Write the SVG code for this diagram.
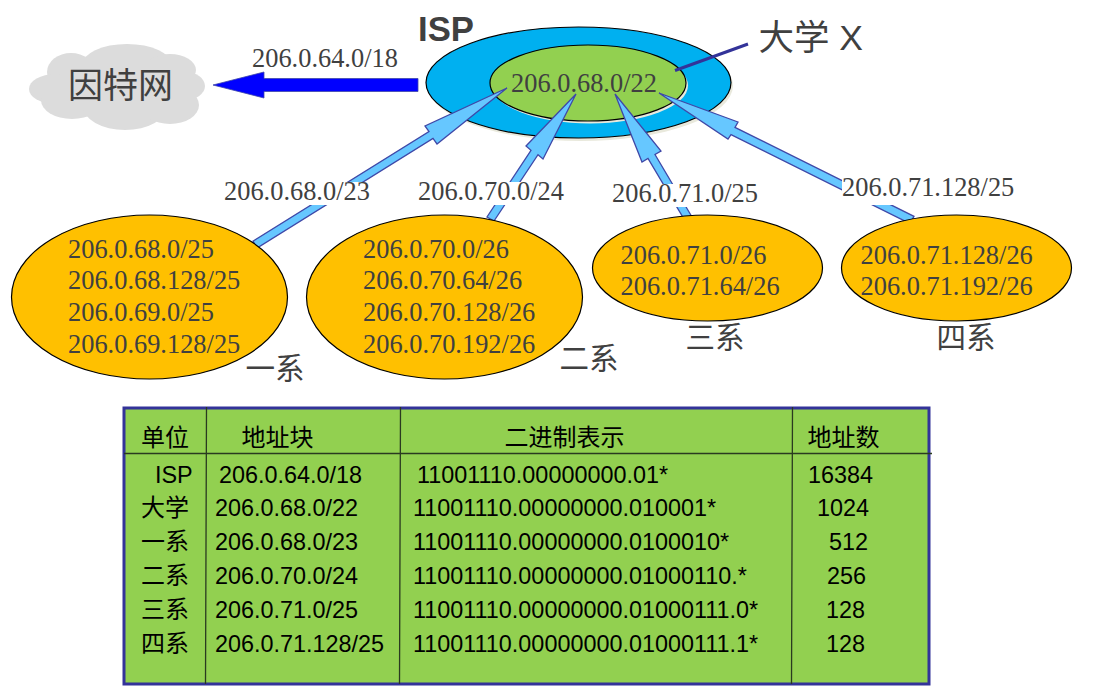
<svg xmlns="http://www.w3.org/2000/svg" width="1104" height="696" viewBox="0 0 1104 696">
<style>
.t{font-family:"Liberation Serif","Noto Sans CJK SC",serif;font-size:26.4px;fill:#404040}
.c{font-family:"Liberation Sans","Noto Sans CJK SC",sans-serif;fill:#404040}
.h{font-size:29.500px}
.n{fill:#ffc000;stroke:#000;stroke-width:1.2}
.a{fill:#66c7ff;stroke:#3f48a8;stroke-width:1.3;stroke-linejoin:miter}
.m{fill:#fff}
.tb{font-family:"Liberation Sans","Noto Sans CJK SC",sans-serif;font-size:23.4px;fill:#000}
.z{font-size:24px}
.g{stroke:#2a3a20;stroke-width:1.3;fill:none}
</style>
<g id="internet">
<g fill="#dcdcdc">
<ellipse cx="127" cy="65" rx="45" ry="21"/>
<ellipse cx="71" cy="72" rx="24" ry="19"/>
<ellipse cx="170" cy="70" rx="26" ry="16"/>
<ellipse cx="55" cy="89" rx="26" ry="15"/>
<ellipse cx="185" cy="86" rx="20" ry="14"/>
<ellipse cx="72" cy="100" rx="31" ry="19"/>
<ellipse cx="125" cy="106" rx="42" ry="24"/>
<ellipse cx="170" cy="105" rx="29" ry="19"/>
<rect x="60" y="65" width="125" height="45"/>
</g>
<text class="c" x="68" y="98" font-size="35">因特网</text>
</g>
<g id="isp">
<ellipse cx="580.500" cy="85.500" rx="152.500" ry="55.500" fill="#e9e9dc"/>
<ellipse cx="578.500" cy="82.500" rx="152.500" ry="55.500" fill="#00b0f0" stroke="#000" stroke-width="1.2"/>
<text class="c" x="418" y="41" font-size="34.700" font-weight="bold">ISP</text>
</g>
<g id="university">
<ellipse cx="590" cy="85.500" rx="98" ry="38" fill="#e9e9dc"/>
<ellipse cx="588" cy="83" rx="98" ry="38" fill="#92d050" stroke="#000" stroke-width="1.2"/>
<text class="t" x="511" y="92">206.0.68.0/22</text>
</g>
<g id="connectors">
<polygon class="a" points="507,88 437,144 433,138.400 257,248 253,241.200 429,131.600 425,126"/>
<polygon class="a" points="576,94 526,146 531,150.300 487,217 494,221 538,154.700 543,159"/>
<polygon class="a" points="615,94 642,162 648,158.500 684.600,220 691.400,216 655,154.500 661,151"/>
<polygon class="a" points="659,93 738,122 735,127.400 914,216.400 910,223.600 731,134.600 728,139"/>
<polygon points="213,85 264,72 264,78.500 418,78.500 418,91.500 264,91.500 264,98" fill="#0000ff" stroke="#3f48a8" stroke-width="0.8"/>
<line x1="675" y1="70.500" x2="748" y2="44" stroke="#333399" stroke-width="3"/>
</g>
<g id="labels">
<text class="t" x="252" y="67">206.0.64.0/18</text>
<text class="c" x="758.500" y="50" font-size="35.500">大学 X</text>
<rect class="m" x="224" y="182" width="146" height="23"/>
<text class="t" x="224" y="200">206.0.68.0/23</text>
<rect class="m" x="418" y="182" width="146" height="23"/>
<text class="t" x="418" y="200">206.0.70.0/24</text>
<rect class="m" x="612" y="184" width="146" height="23"/>
<text class="t" x="612" y="202">206.0.71.0/25</text>
<rect class="m" x="842" y="178" width="172" height="27"/>
<text class="t" x="842" y="196">206.0.71.128/25</text>
</g>
<g id="dept1">
<ellipse class="n" cx="149.500" cy="297" rx="138" ry="82"/>
<text class="t" x="68" y="258">206.0.68.0/25</text>
<text class="t" x="68" y="289">206.0.68.128/25</text>
<text class="t" x="68" y="321">206.0.69.0/25</text>
<text class="t" x="68" y="353">206.0.69.128/25</text>
<text class="c h" x="245.500" y="379">一系</text>
</g>
<g id="dept2">
<ellipse class="n" cx="444.500" cy="297" rx="138" ry="82"/>
<text class="t" x="363" y="258">206.0.70.0/26</text>
<text class="t" x="363" y="289">206.0.70.64/26</text>
<text class="t" x="363" y="321">206.0.70.128/26</text>
<text class="t" x="363" y="353">206.0.70.192/26</text>
<text class="c h" x="559.500" y="369">二系</text>
</g>
<g id="dept3">
<ellipse class="n" cx="707.500" cy="268" rx="115" ry="53"/>
<text class="t" x="620.500" y="264">206.0.71.0/26</text>
<text class="t" x="620.500" y="295">206.0.71.64/26</text>
<text class="c h" x="685.500" y="348">三系</text>
</g>
<g id="dept4">
<ellipse class="n" cx="956.500" cy="268" rx="115" ry="53"/>
<text class="t" x="860.500" y="264">206.0.71.128/26</text>
<text class="t" x="860.500" y="295">206.0.71.192/26</text>
<text class="c h" x="936.500" y="348">四系</text>
</g>
<g id="table">
<rect x="124" y="408" width="805" height="276" fill="#92d050" stroke="#333399" stroke-width="3"/>
<path class="g" d="M206.500 407L205.500 684M400.500 407L399.500 684M792.500 407L791.500 684M124 453.500H932"/>
<g class="tb">
<text class="z" x="141" y="446">单位</text><text class="z" x="241.500" y="446">地址块</text><text class="z" x="504.500" y="446">二进制表示</text><text class="z" x="807.500" y="446">地址数</text>
<text x="155" y="483">ISP</text><text x="219" y="483">206.0.64.0/18</text><text x="417" y="483">11001110.00000000.01*</text><text x="808" y="483">16384</text>
<text class="z" x="141" y="516">大学</text><text x="215" y="516">206.0.68.0/22</text><text x="413" y="516">11001110.00000000.010001*</text><text x="817" y="516">1024</text>
<text class="z" x="141" y="550">一系</text><text x="215" y="550">206.0.68.0/23</text><text x="413" y="550">11001110.00000000.0100010*</text><text x="829" y="550">512</text>
<text class="z" x="141" y="584">二系</text><text x="215" y="584">206.0.70.0/24</text><text x="413" y="584">11001110.00000000.01000110.*</text><text x="827" y="584">256</text>
<text class="z" x="141" y="618">三系</text><text x="215" y="618">206.0.71.0/25</text><text x="413" y="618">11001110.00000000.01000111.0*</text><text x="826" y="618">128</text>
<text class="z" x="141" y="652">四系</text><text x="215" y="652">206.0.71.128/25</text><text x="413" y="652">11001110.00000000.01000111.1*</text><text x="826" y="652">128</text>
</g>
</g>
</svg>
